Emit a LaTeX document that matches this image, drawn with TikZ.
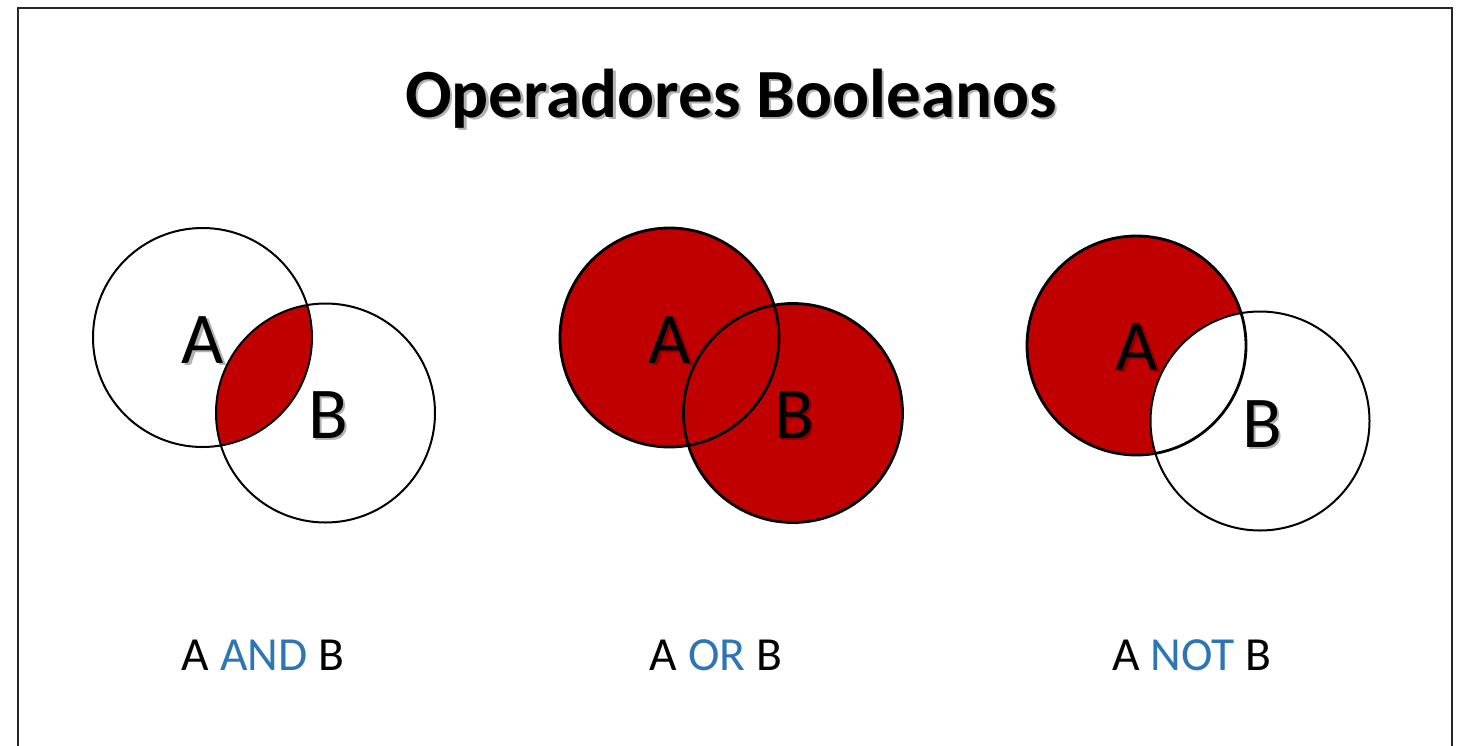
\documentclass[tikz,border=0pt]{standalone}
\usepackage{fontspec}
\setmainfont{Carlito}
\usepackage{xcolor}
\usepackage{tikz}
\usetikzlibrary{backgrounds}

\definecolor{vennred}{HTML}{C00000}
\definecolor{opblue}{HTML}{2E75B6}
\newcommand{\shadowed}[1]{\rlap{\kern2.5pt\raisebox{-2.5pt}{\begin{pgfscope}\pgfsetfillopacity{0.3}#1\end{pgfscope}}}#1}

\begin{document}
\begin{tikzpicture}[x=1pt, y=-1pt,
    set/.style={draw, circle, line width=2pt, minimum size=219pt, inner sep=0pt},
    setlabel/.style={anchor=base, inner sep=0pt, font=\fontsize{73}{80}\selectfont},
    oplabel/.style={anchor=base, inner sep=0pt, font=\fontsize{47.5}{55}\selectfont}]
    \useasboundingbox (0,0) rectangle (1466,745);
    \draw[line width=2pt, black!85] (18,750) -- (18,8) -- (1452,8) -- (1452,750);
    \node[anchor=base, inner sep=0pt, font=\bfseries\fontsize{69}{80}\selectfont] (title) at (731,117) {\shadowed{Operadores Booleanos}};

    % A AND B
    \node[set] (andA) at (202.5,337.5) {};
    \node[set] (andB) at (325.5,413) {};
    \begin{scope}[on background layer]
      \begin{scope}
        \clip (andA.center) circle (109.5);
        \fill[vennred] (andB.center) circle (109.5);
      \end{scope}
    \end{scope}
    \node[setlabel] (andAl) at (203,363) {\shadowed{A}};
    \node[setlabel] (andBl) at (328,438) {\shadowed{B}};
    \node[oplabel] (andop) at (263,670) {A \textcolor{opblue}{AND} B};

    % A OR B
    \node[set, line width=2.8pt] (orA) at (669.5,337.5) {};
    \node[set, line width=2.8pt] (orB) at (793,413) {};
    \begin{scope}[on background layer]
      \fill[vennred] (orA.center) circle (109.5);
      \fill[vennred] (orB.center) circle (109.5);
    \end{scope}
    \node[setlabel] (orAl) at (670,363) {\shadowed{A}};
    \node[setlabel] (orBl) at (794,438) {\shadowed{B}};
    \node[oplabel] (orop) at (716,670) {A \textcolor{opblue}{OR} B};

    % A NOT B
    \node[set, line width=2.8pt] (notA) at (1136.5,345.5) {};
    \node[set] (notB) at (1260,421) {};
    \begin{scope}[on background layer]
      \fill[vennred] (notA.center) circle (109.5);
      \fill[white] (notB.center) circle (109.5);
    \end{scope}
    \node[setlabel] (notAl) at (1137,370) {\shadowed{A}};
    \node[setlabel] (notBl) at (1262,447) {\shadowed{B}};
    \node[oplabel] (notop) at (1192,670) {A \textcolor{opblue}{NOT} B};
  \end{tikzpicture}
\end{document}
